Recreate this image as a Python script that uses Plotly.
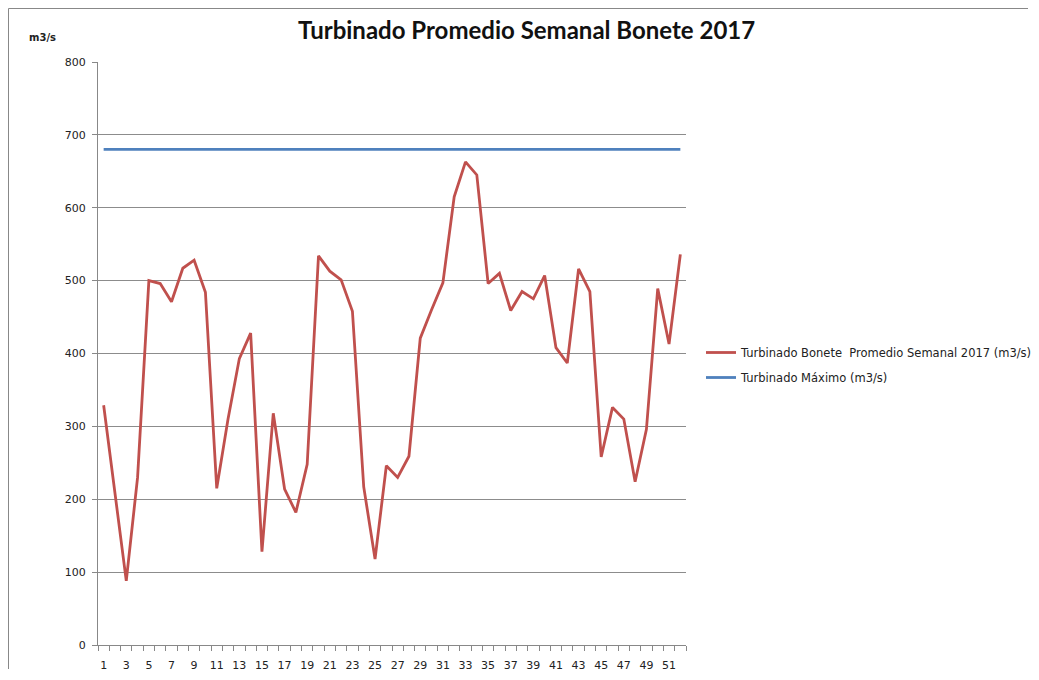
import plotly.graph_objects as go

weeks = list(range(1, 53))
turbinado = [329, 212, 88, 230, 500, 496, 471, 517, 528, 484,
             215, 310, 393, 428, 128, 318, 214, 182, 248, 534,
             513, 501, 458, 217, 118, 246, 230, 259, 421, 460,
             497, 615, 663, 645, 496, 510, 459, 485, 475, 507,
             408, 387, 516, 485, 258, 326, 310, 224, 296, 489,
             413, 536]
turbinado_max = [680] * 52
x_tick_vals = list(range(1, 53, 2))
x_tick_text = [str(v) for v in x_tick_vals]
y_tick_vals = [0, 100, 200, 300, 400, 500, 600, 700, 800]

OFF = 8  # page body margin
W, H = 1039 - 2 * OFF, 680 - 2 * OFF
L, R, T, B = 98 - OFF, 686 - OFF, 62 - OFF, 645 - OFF

def px(x):
    # x given in page pixels -> paper fraction
    return (x - OFF - L) / (R - L)

def py(y):
    return (B - (y - OFF)) / (B - T)

def cx(x):
    # page pixels -> container fraction
    return (x - OFF) / W

def cy(y):
    return 1 - (y - OFF) / H

fig = go.Figure()
fig.add_trace(go.Scatter(
    x=weeks, y=turbinado, mode="lines",
    name="Turbinado Bonete\u00a0 Promedio Semanal 2017 (m3/s)",
    legendgroup="a",
    line=dict(color="#C0504D", width=2.8)))
fig.add_trace(go.Scatter(
    x=weeks, y=turbinado_max, mode="lines",
    name="Turbinado Máximo (m3/s)",
    legendgroup="b",
    line=dict(color="#4F81BD", width=2.8)))

fig.update_layout(
    width=W, height=H,
    margin=dict(l=L, r=W - R, t=T, b=H - B, pad=0, autoexpand=False),
    paper_bgcolor="white", plot_bgcolor="white",
    font=dict(family="DejaVu Sans", size=11, color="#222"),
    showlegend=True,
    legend=dict(xref="container", yref="container",
                x=cx(701), y=cy(365), xanchor="left", yanchor="middle",
                font=dict(family="DejaVu Sans", size=11.5, color="#222"),
                bgcolor="rgba(0,0,0,0)", tracegroupgap=6, itemwidth=30),
    xaxis=dict(range=[0.5, 52.5], tickmode="array", tickvals=x_tick_vals,
               ticktext=x_tick_text, showgrid=False, zeroline=False,
               showline=True, linecolor="#888", linewidth=1,
               ticks="", ticklabelstandoff=10, automargin=False,
               minor=dict(ticks="outside", tick0=0.5, dtick=1, ticklen=5,
                          tickcolor="#888", showgrid=False),
               tickfont=dict(size=11, color="#222")),
    yaxis=dict(range=[0, 800], tickmode="array", tickvals=y_tick_vals,
               showgrid=True, gridcolor="#8c8c8c", gridwidth=1,
               zeroline=False, showline=True, linecolor="#888", linewidth=1,
               ticks="outside", ticklen=5, tickcolor="#888",
               ticklabelstandoff=4, automargin=False,
               tickfont=dict(size=11, color="#222")),
    shapes=[
        dict(type="line", xref="paper", yref="paper",
             x0=px(OFF + 0.5), x1=px(OFF + 0.5), y0=py(669), y1=py(OFF + 0.5),
             line=dict(color="#888", width=1), layer="below"),
        dict(type="line", xref="paper", yref="paper",
             x0=px(OFF + 0.5), x1=px(1028), y0=py(OFF + 0.5), y1=py(OFF + 0.5),
             line=dict(color="#888", width=1), layer="below"),
    ],
    annotations=[
        dict(text="<b>Turbinado Promedio Semanal Bonete 2017</b>",
             xref="paper", yref="paper", x=px(526), y=py(30),
             xanchor="center", yanchor="middle", showarrow=False,
             font=dict(family="Lato", size=24, color="#111")),
        dict(text="<b>m3/s</b>", xref="paper", yref="paper",
             x=px(42), y=py(37), xanchor="center", yanchor="middle",
             showarrow=False,
             font=dict(family="DejaVu Sans", size=10, color="#222")),
    ],
)

fig.write_html("out.html")
